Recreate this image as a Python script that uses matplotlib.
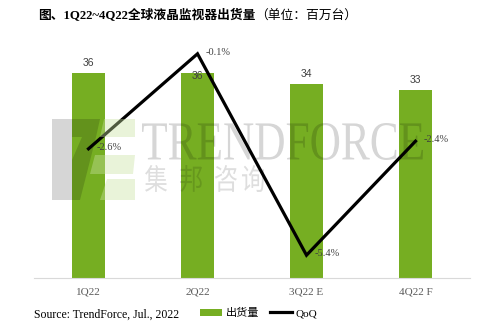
import matplotlib.pyplot as plt
from matplotlib.patches import Polygon, Patch, PathPatch
from matplotlib.lines import Line2D
from matplotlib.textpath import TextPath
from matplotlib.font_manager import FontProperties
from matplotlib.transforms import Affine2D

# --- Data ---
quarters = ["1Q22", "2Q22", "3Q22 E", "4Q22 F"]
shipments = [36, 36, 34, 33]          # million units
qoq = [-2.6, -0.1, -5.4, -2.4]        # %

GREEN = "#76ae22"
SERIF = ["Liberation Serif", "Noto Sans CJK SC"]
CJK = ["Noto Sans CJK SC", "DejaVu Sans"]
W, H = 498, 332

plt.rcParams['font.family'] = ["Liberation Sans", "Noto Sans CJK SC"]

fig = plt.figure(figsize=(W / 100, H / 100), dpi=100)
ax = fig.add_axes([34 / W, 54 / H, 436 / W, 228 / H])
ax2 = ax.twinx()

x = list(range(len(quarters)))
ax.bar(x, shipments, width=0.31, color=GREEN, zorder=2)
ax.set_ylim(0, 40)
ax.set_xlim(-0.5, len(quarters) - 0.5)

# value labels above bars (2Q22 sits just under the QoQ peak)
label_off = [7, -2, 7, 7]
for xi, v, off in zip(x, shipments, label_off):
    ax.annotate(f"{v}", (xi, v), xytext=(0, off), textcoords="offset points",
                ha="center", va="center", fontsize=7.5, color="#404040", zorder=5)

ax2.plot(x, qoq, color="black", lw=2.3, solid_joinstyle="miter", zorder=4)
ax2.set_ylim(-6, 0)
for xi, v in zip(x, qoq):
    ax2.annotate(f"{v}%", (xi, v), xytext=(6, 1), textcoords="offset points",
                 ha="left", va="center", fontsize=7.5, color="#404040",
                 family=SERIF, zorder=5)

for a in (ax, ax2):
    for s in ("top", "right", "left"):
        a.spines[s].set_visible(False)
    a.set_yticks([])
ax.spines["bottom"].set_color("#d9d9d9")
ax2.spines["bottom"].set_visible(False)
ax.set_xticks(x)
ax.set_xticklabels(quarters, family=SERIF, fontsize=8, color="#595959")
ax.tick_params(axis="x", length=0, pad=7)

# title
t1 = fig.text(38 / W, 1 - 16 / H, "图、1Q22~4Q22全球液晶监视器出货量", family=SERIF,
              fontsize=9.2, fontweight="bold", va="center", ha="left")
ax.annotate("（单位：百万台）", xy=(1, 0.5), xycoords=t1, va="center", ha="left",
            family=CJK, fontsize=9.2, annotation_clip=False)

# --- watermark, translucent over the plot ---
def fpoly(pts, **kw):
    p = Polygon([(px / W, 1 - py / H) for px, py in pts], closed=True,
                transform=fig.transFigure, zorder=10, lw=0, **kw)
    fig.add_artist(p)

def fit_text(s, box, family, **kw):
    # stretch a text outline into a pixel box (x0, y0, x1, y1), top-left origin
    tp = TextPath((0, 0), s, size=100, prop=FontProperties(family=family))
    ext = tp.get_extents()
    x0, y0, x1, y1 = box
    tr = (Affine2D().translate(-ext.x0, -ext.y0)
          .scale((x1 - x0) / ext.width, (y1 - y0) / ext.height)
          .translate(x0, H - y1))
    fig.add_artist(PathPatch(tp, transform=tr, lw=0, zorder=10, **kw))

shade = dict(facecolor="black", alpha=0.16)
light = dict(facecolor="#c8e1a0", alpha=0.4)

fpoly([(52, 119), (72, 119), (72, 200), (52, 200)], **shade)
fpoly([(72, 119), (100, 119), (96, 137), (72, 137)], **shade)
fpoly([(82, 137), (96, 137), (80, 200), (72, 200), (72, 160)], **shade)
fpoly([(104, 119), (135, 119), (135, 137), (100, 137)], **light)
fpoly([(95, 155), (135, 155), (133, 174), (90, 174)], **light)
fpoly([(107, 179), (135, 179), (135, 200), (100, 200)], **light)

fit_text("TRENDFORCE", (142, 123, 423, 160), "Liberation Serif", **shade)
for ch, cx in zip("集邦咨询", [156, 191, 226, 253]):
    fit_text(ch, (cx - 11, 165, cx + 11, 192), "Noto Sans CJK SC",
             facecolor="black", alpha=0.13)

# source and legend
fig.text(34 / W, 1 - 315 / H, "Source: TrendForce, Jul., 2022", family=SERIF,
         fontsize=8.5, va="center", ha="left")
handles = [Patch(facecolor=GREEN, edgecolor="none"),
           Line2D([], [], color="black", lw=2.3)]
leg = fig.legend(handles, ["出货量", "QoQ"], loc="center left",
                 bbox_to_anchor=(190 / W, 1 - 313 / H), ncol=2, frameon=False,
                 handlelength=2.0, handleheight=0.6, handletextpad=0.3,
                 columnspacing=1.0, prop={"family": CJK, "size": 8})
leg.get_texts()[1].set_family(SERIF)

fig.savefig("out.png", dpi=100)
